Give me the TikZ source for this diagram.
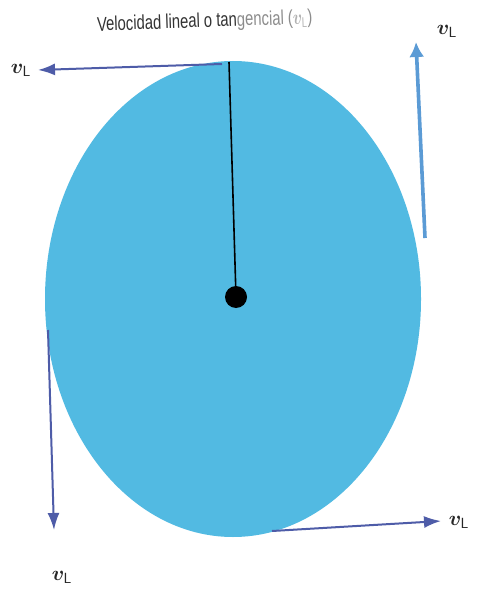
\documentclass[tikz,border=0pt]{standalone}
\usepackage{amsmath,amssymb,bm}
\usepackage{fontspec}
\newfontfamily\labfont{Liberation Sans}
\usetikzlibrary{arrows.meta}
\definecolor{discfill}{RGB}{82,186,226}
\definecolor{darkarrow}{RGB}{78,92,168}
\definecolor{lightarrow}{RGB}{91,155,213}
\tikzset{
  vel/.style={draw=darkarrow, line width=2pt, -{Latex[length=17pt,width=12pt]}},
  velup/.style={draw=lightarrow, line width=3.6pt, -{Latex[length=15pt,width=15pt]}},
  vlab/.style={font=\fontsize{21}{21}\selectfont, text=black!85, inner sep=0pt},
}
\begin{document}
\begin{tikzpicture}[x=1pt,y=-1pt]
\useasboundingbox (0,0) rectangle (496,593);
\fill[white] (0,0) rectangle (496,593);
% disc
\fill[discfill] (233,299) ellipse [x radius=188, y radius=238];
% radius line and centre
\coordinate (top) at (229,62);
\node[circle, fill=black, minimum size=22pt, inner sep=0pt] (ctr) at (236,297) {};
\draw[black, line width=1.6pt] (top) -- (ctr.center);
% title
\node[inner sep=0pt, rotate=2, anchor=west] (title) at (97,26)
  {\labfont\fontsize{20}{20}\selectfont\scalebox{0.74}[1]{\textcolor{black!80}{Velocidad lineal o tan}\textcolor{black!45}{gencial (}\textcolor{black!30}{$\bm{v}_{\mathsf{L}}$}\textcolor{black!45}{)}}};
% velocity vectors
\coordinate (s1) at (222,64);
\coordinate (e1) at (38,70);
\draw[vel] (s1) -- (e1);
\node[vlab] (l1) at (21,70) {$\bm{v}_{\mathsf{L}}$};

\coordinate (s2) at (425,238);
\coordinate (e2) at (416,42);
\draw[velup] (s2) -- (e2);
\node[vlab] (l2) at (447,31) {$\bm{v}_{\mathsf{L}}$};

\coordinate (s3) at (48,330);
\coordinate (e3) at (54,530);
\draw[vel] (s3) -- (e3);
\node[vlab] (l3) at (62,577) {$\bm{v}_{\mathsf{L}}$};

\coordinate (s4) at (272,531);
\coordinate (e4) at (441,521);
\draw[vel] (s4) -- (e4);
\node[vlab] (l4) at (459,522) {$\bm{v}_{\mathsf{L}}$};
\end{tikzpicture}
\end{document}
